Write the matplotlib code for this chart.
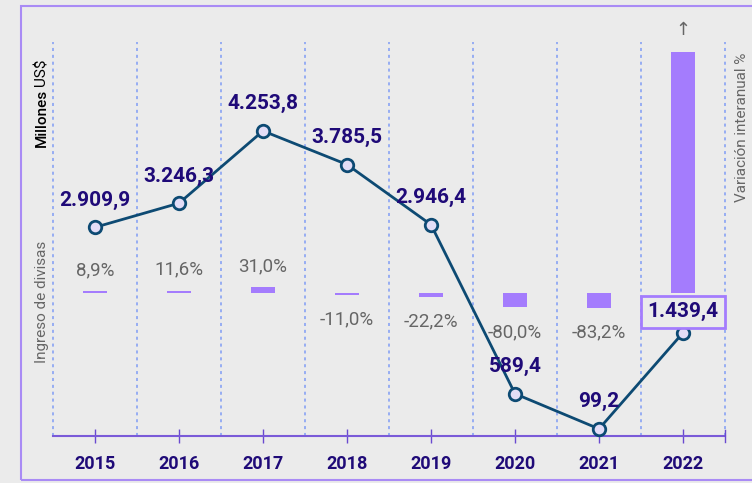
import matplotlib.pyplot as plt
import matplotlib.patches as patches

# Data
years = ['2015', '2016', '2017', '2018', '2019', '2020', '2021', '2022']
ingreso = [2909.9, 3246.3, 4253.8, 3785.5, 2946.4, 589.4, 99.2, 1439.4]
ingreso_txt = ['2.909,9', '3.246,3', '4.253,8', '3.785,5', '2.946,4', '589,4', '99,2', '1.439,4']
variacion = [8.9, 11.6, 31.0, -11.0, -22.2, -80.0, -83.2, 1351.0]
variacion_txt = ['8,9%', '11,6%', '31,0%', '-11,0%', '-22,2%', '-80,0%', '-83,2%', '']

plt.rcParams['font.family'] = ['Roboto', 'DejaVu Sans']

bg = '#ebebeb'
navy = '#1f0a78'
line_col = '#0d4a73'
bar_col = '#a47cfd'
grey = '#666666'

fig = plt.figure(figsize=(7.52, 4.83), dpi=100, facecolor=bg)
ax = fig.add_axes([53 / 752, 47 / 483, 672 / 752, 394 / 483])
ax2 = ax.twinx()
ax.set_facecolor('none')
ax2.set_facecolor('none')
ax.set_zorder(2)
ax2.set_zorder(1)

x = list(range(len(years)))

# Bars (variacion interanual)
ax2.bar(x, variacion, width=0.29, color=bar_col, zorder=2)
ax2.set_ylim(-805, 1410)
for i, (v, t) in enumerate(zip(variacion, variacion_txt)):
    if not t:
        continue
    if v > 0:
        ax2.annotate(t, (i, v), xytext=(0, 21), textcoords='offset pixels',
                     ha='center', va='center', fontsize=13.5, color=grey)
    else:
        ax2.annotate(t, (i, v), xytext=(0, -25), textcoords='offset pixels',
                     ha='center', va='center', fontsize=13.5, color=grey)
ax2.annotate('\u2191', (7, variacion[7]), xytext=(0, 22), textcoords='offset pixels',
             ha='center', va='center', fontsize=13, color=grey, family=['DejaVu Sans'])

# Line (ingreso de divisas)
ax.plot(x, ingreso, color=line_col, lw=2, marker='o', markersize=9,
        markerfacecolor='#e3ddf7', markeredgecolor=line_col, markeredgewidth=2,
        zorder=5, clip_on=False)
for i, (v, t) in enumerate(zip(ingreso, ingreso_txt)):
    if i == 7:
        ax.annotate(t, (i, v), xytext=(0, 21), textcoords='offset pixels',
                    ha='center', va='center', fontsize=15, fontweight='bold', color=navy,
                    bbox=dict(boxstyle='square,pad=0.3', fc=bg, ec=bar_col, lw=2), zorder=6)
    else:
        ax.annotate(t, (i, v), xytext=(0, 27), textcoords='offset pixels',
                    ha='center', va='center', fontsize=15, fontweight='bold', color=navy, zorder=6)

ax.set_ylim(0, 5494)
ax.set_xlim(-0.5, 7.5)

# Vertical dotted separators
for b in [i + 0.5 for i in range(-1, 8)]:
    ax.axvline(b, color='#7f9cf5', lw=1.1, ls=(0, (2, 2.5)), zorder=1, clip_on=False)

for a in (ax, ax2):
    for s in a.spines.values():
        s.set_visible(False)
    a.set_yticks([])
ax.spines['bottom'].set_visible(True)
ax.spines['bottom'].set_color('#7a5ad8')
ax.spines['bottom'].set_linewidth(1.5)
ax.set_xticks(x)
ax.set_xticklabels(years, fontsize=13, fontweight='bold', color=navy)
ax.tick_params(axis='x', direction='inout', length=10, width=1, color='#6a4ad0', pad=9)
ax.plot([7.5, 7.5], [-90, 90], color='#6a4ad0', lw=1, clip_on=False, zorder=3)

# Axis labels
fig.text(42 / 752, 1 - 72 / 483, 'US$', rotation=90, ha='center', va='center',
         fontsize=11, color='black')
fig.text(42 / 752, 1 - 118 / 483, 'Millones', rotation=90, ha='center', va='center',
         fontsize=11, fontweight='medium', color='black')
fig.text(42 / 752, 1 - 302 / 483, 'Ingreso de divisas', rotation=90, ha='center', va='center',
         fontsize=11, color=grey)
fig.text(742 / 752, 1 - 127 / 483, 'Variación interanual %', rotation=90, ha='center', va='center',
         fontsize=11, color=grey)

# Outer frame
fig.patches.append(patches.Rectangle((21 / 752, 3 / 483), 740 / 752, 474 / 483,
                                     transform=fig.transFigure, fill=False,
                                     ec='#a98bf5', lw=1.5))

fig.savefig('out.png', dpi=100, facecolor=bg)
